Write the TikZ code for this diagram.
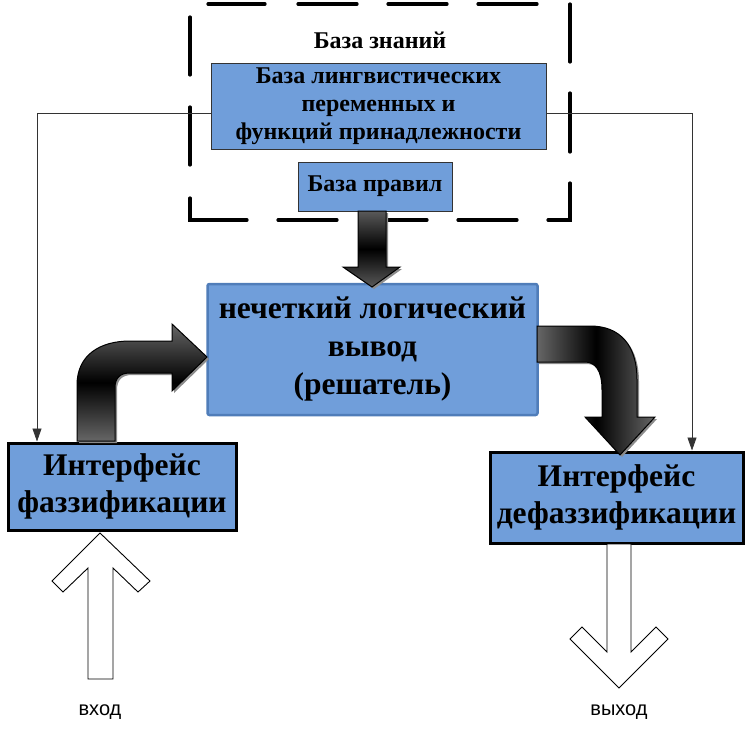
\documentclass[tikz,border=0pt]{standalone}
\usepackage{fontspec}
\setmainfont{Liberation Serif}
\setsansfont{Liberation Sans}
\usetikzlibrary{arrows.meta}
\definecolor{boxblue}{RGB}{112,158,218}
\definecolor{edgeblue}{RGB}{80,125,185}
\begin{document}
\begin{tikzpicture}[x=1pt,y=-1pt,
  bluebox/.style={draw=black!80,fill=boxblue,line width=0.8pt,inner sep=0pt,align=center,font=\bfseries\fontsize{24}{28}\selectfont},
  ifacebox/.style={draw=black,fill=boxblue,line width=3pt,inner sep=0pt,align=center,font=\bfseries\fontsize{31.5}{37}\selectfont},
  thinline/.style={draw=black!80,line width=0.8pt,-{Triangle[length=13pt,width=9pt]}},
  darrow/.style={draw=black,line width=1pt},
  shadowstyle/.style={fill=black!45},
  hollow/.style={draw=black,fill=white,line width=0.9pt},
  kbframe/.style={line width=3.2pt,line cap=round,line join=miter},
  lbl/.style={font=\sffamily\fontsize{20}{24}\selectfont}]
\useasboundingbox (0,0) rectangle (751,728);
% knowledge base dashed frame
\draw[kbframe] (190,198) -- (190,220) -- (247,220);
\draw[kbframe] (278,220) -- (337,220);
\draw[kbframe] (368,220) -- (427,220);
\draw[kbframe] (458,220) -- (517,220);
\draw[kbframe] (548,220) -- (570,220) -- (570,183);
\draw[kbframe] (570,152) -- (570,93);
\draw[kbframe] (570,62) -- (570,4);
\draw[kbframe] (537,4) -- (478,4);
\draw[kbframe] (447,4) -- (388,4);
\draw[kbframe] (357,4) -- (298,4);
\draw[kbframe] (265,4) -- (208,4);
\draw[kbframe] (190,17) -- (190,75);
\draw[kbframe] (190,107) -- (190,165);
\node[font=\bfseries\fontsize{24}{28}\selectfont] (kbtitle) at (380,40) {База знаний};
\node[bluebox,minimum width=335,minimum height=86] (lingv) at (378.5,106)
  {База лингвистических\\переменных и\\функций принадлежности};
\node[bluebox,minimum width=154,minimum height=49] (rules) at (375,186.5) {База правил};
% main box
\node[draw=edgeblue,fill=boxblue,line width=2.5pt,rounded corners=2pt,inner sep=0pt,minimum width=330,minimum height=131,align=center,
  font=\bfseries\fontsize{31.5}{38}\selectfont] (main) at (372.5,349.5)
  {нечеткий логический\\вывод\\(решатель)};
% interface boxes
\node[ifacebox,minimum width=228,minimum height=87] (fazz) at (122,486.5) {Интерфейс\\фаззификации};
\node[ifacebox,minimum width=253,minimum height=91] (defazz) at (616.5,497.5) {Интерфейс\\дефаззификации};
% thin connectors
\coordinate (lx) at (37,0);
\coordinate (rx) at (692,0);
\draw[thinline] ([yshift=-7pt]lingv.west) -| (lx |- fazz.north);
\draw[thinline] ([yshift=-7pt]lingv.east) -| (rx |- defazz.north);
% rules -> main arrow
\fill[shadowstyle] (360,213) -- (388,213) -- (388,269) -- (402,269) -- (374,289) -- (345,269) -- (360,269) -- cycle;
\shadedraw[darrow,top color=black!65,bottom color=black!65,middle color=black]
  (358,211) -- (386,211) -- (386,267) -- (400,267) -- (372,287) -- (343,267) -- (358,267) -- cycle;
% left bent arrow
\fill[shadowstyle] (79,443) -- (79,387) .. controls (79,357) and (102,343) .. (132,343) -- (174,343) -- (174,326)
  -- (209,359) -- (174,393) -- (174,375) -- (132,375) .. controls (122,375) and (117,380) .. (117,390) -- (117,443) -- cycle;
\shadedraw[darrow,top color=black!60,bottom color=black!60,middle color=black]
  (77,441) -- (77,385) .. controls (77,355) and (100,341) .. (130,341) -- (172,341) -- (172,324)
  -- (207,357) -- (172,391) -- (172,373) -- (130,373) .. controls (120,373) and (115,378) .. (115,388) -- (115,441) -- cycle;
% right bent arrow
\fill[shadowstyle] (539,328) -- (592,328) .. controls (622,328) and (639,347) .. (639,382) -- (639,419) -- (657,419)
  -- (622,457) -- (587,419) -- (604,419) -- (604,392) .. controls (604,372) and (597,364) .. (587,364) -- (539,364) -- cycle;
\shadedraw[darrow,left color=black!60,right color=black!60,middle color=black]
  (537,326) -- (590,326) .. controls (620,326) and (637,345) .. (637,380) -- (637,417) -- (655,417)
  -- (620,455) -- (585,417) -- (602,417) -- (602,390) .. controls (602,370) and (595,362) .. (585,362) -- (537,362) -- cycle;
% input / output hollow arrows
\draw[hollow] (100,533) -- (150,581) -- (138,592) -- (113,568) -- (113,679) -- (88,679) -- (88,568) -- (63,592) -- (52,581) -- cycle;
\draw[hollow] (607,544) -- (631,544) -- (631,652) -- (656,627) -- (668,639) -- (619,688) -- (570,639) -- (582,627) -- (607,652) -- cycle;
\node[lbl] (in) at (100,712) {вход};
\node[lbl] (out) at (619,712) {выход};
\end{tikzpicture}
\end{document}
